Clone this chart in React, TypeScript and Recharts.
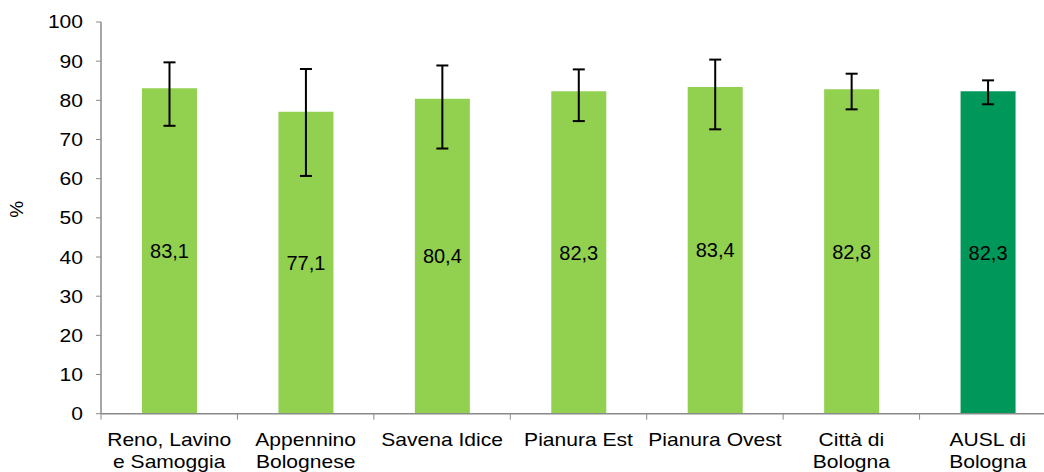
import React from "react";
import { BarChart, Bar, XAxis, YAxis, ErrorBar, LabelList, Cell, Label } from "recharts";

const categories = [
  "Reno, Lavino|e Samoggia",
  "Appennino|Bolognese",
  "Savena Idice",
  "Pianura Est",
  "Pianura Ovest",
  "Città di|Bologna",
  "AUSL di|Bologna",
];
const values = [83.1, 77.1, 80.4, 82.3, 83.4, 82.8, 82.3];
const lowCI = [73.5, 60.7, 67.7, 74.7, 72.6, 77.7, 79.0];
const highCI = [89.7, 88.0, 88.9, 87.9, 90.4, 86.8, 85.1];
const yTicks = [0, 10, 20, 30, 40, 50, 60, 70, 80, 90, 100];

const LIGHT = "#92D050";
const DARK = "#00985A";
const AXIS = "#8a8a8a";
const FONT = "'Liberation Sans', Arial, sans-serif";
const STRETCH = 1.17;

const data = categories.map((c, i) => ({
  name: c,
  value: values[i],
  err: [+(values[i] - lowCI[i]).toFixed(2), +(highCI[i] - values[i]).toFixed(2)],
}));

const CHART_W = 1070;
const MARGIN = { top: 22, right: 14, left: 0, bottom: 0 };
const Y_W = 101;
const PLOT_W = CHART_W - MARGIN.left - MARGIN.right - Y_W;
const BAND = PLOT_W / categories.length;

const XTick = (props: any) => {
  const { x, y, payload } = props;
  const lines = String(payload.value).split("|");
  return (
    <g>
      <line x1={x - BAND / 2} y1={y} x2={x - BAND / 2} y2={y + 6} stroke={AXIS} strokeWidth={1} />
      <g transform={`translate(${x},${y}) scale(${STRETCH},1)`}>
        {lines.map((l: string, i: number) => (
          <text key={i} x={0} y={32.5 + i * 22.3} textAnchor="middle" fontSize={18} fill="#000" fontFamily={FONT}>
            {l}
          </text>
        ))}
      </g>
    </g>
  );
};

const YTick = (props: any) => {
  const { x, y, payload } = props;
  return (
    <g transform={`translate(${x},${y}) scale(${STRETCH},1)`}>
      <text x={0} y={0} dy="0.36em" textAnchor="end" fontSize={18} fill="#000" fontFamily={FONT}>
        {payload.value}
      </text>
    </g>
  );
};

export default function App() {
  return (
    <div style={{ position: "absolute", left: 0, top: 0, width: 1044, height: 472, overflow: "hidden", background: "#fff" }}>
      <BarChart width={CHART_W} height={472} data={data} margin={MARGIN} style={{ fontFamily: FONT }}>
        <YAxis
          width={Y_W}
          domain={[0, 100]}
          ticks={yTicks}
          interval={0}
          axisLine={{ stroke: AXIS, strokeWidth: 1.5 }}
          tickLine={{ stroke: AXIS, strokeWidth: 1 }}
          tickSize={5}
          tickMargin={13}
          tick={<YTick />}
        >
          <Label
            value="%"
            angle={-90}
            position="insideLeft"
            offset={16}
            style={{ fontSize: 19, fill: "#000", fontFamily: FONT }}
          />
        </YAxis>
        <XAxis
          dataKey="name"
          height={58.3}
          interval={0}
          axisLine={{ stroke: AXIS, strokeWidth: 1.5 }}
          tickLine={false}
          tickSize={0}
          tickMargin={0}
          tick={<XTick />}
        />
        <Bar dataKey="value" barSize={55} isAnimationActive={false}>
          {data.map((d, i) => (
            <Cell key={i} fill={i === data.length - 1 ? DARK : LIGHT} />
          ))}
          <LabelList
            dataKey="value"
            position="center"
            formatter={(v: any) => Number(v).toFixed(1).replace(".", ",")}
            style={{ fontSize: 20, fill: "#000", fontFamily: FONT }}
          />
          <ErrorBar dataKey="err" width={6} strokeWidth={2} stroke="#000" direction="y" />
        </Bar>
      </BarChart>
    </div>
  );
}
